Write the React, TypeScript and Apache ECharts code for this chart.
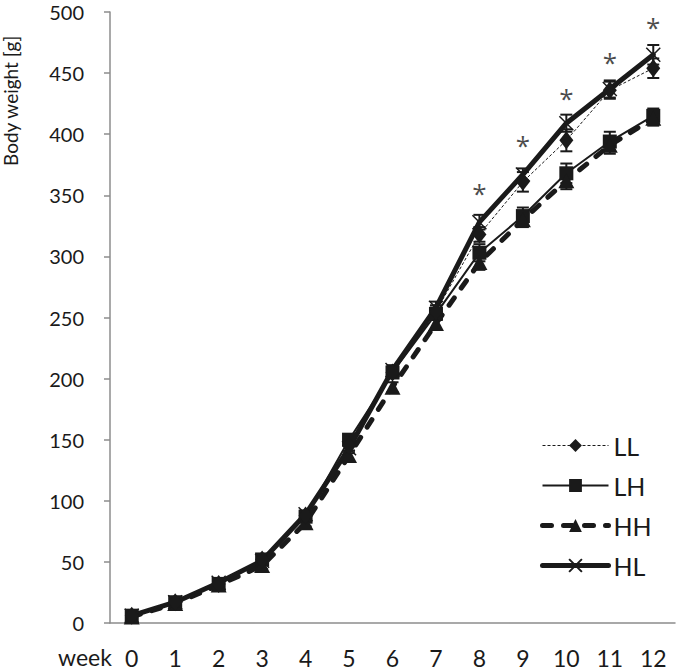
import React, { useEffect, useRef } from "react";
import * as echarts from "echarts";

const weeks = ["0", "1", "2", "3", "4", "5", "6", "7", "8", "9", "10", "11", "12"];
const yTicks = [0, 50, 100, 150, 200, 250, 300, 350, 400, 450, 500];

const LL = [6, 17, 32, 52, 88, 145, 205, 255, 318, 361, 395, 436, 454];
const LH = [6, 17, 32, 52, 87, 150, 205, 253, 303, 333, 368, 394, 415];
const HH = [5, 16, 31, 47, 82, 137, 193, 245, 295, 330, 362, 391, 413];
const HL = [6, 17, 33, 51, 89, 143, 207, 258, 328, 367, 409, 437, 465];

const LLerr = [2, 2, 2, 3, 3, 4, 4, 5, 6, 8, 9, 7, 8];
const LHerr = [2, 2, 2, 3, 3, 4, 4, 5, 7, 7, 8, 8, 6];
const HHerr = [2, 2, 2, 3, 3, 4, 4, 5, 6, 6, 7, 7, 6];
const HLerr = [2, 2, 2, 3, 3, 4, 4, 5, 6, 5, 7, 7, 8];

const starWeeks = [8, 9, 10, 11, 12];
const starValues = [352, 391, 430, 459, 488];

const INK = "#1a1a1a";
const FONT = "Lato, 'Open Sans', sans-serif";

const crossPath = "path://M0,0L10,10M10,0L0,10";

const LLline = { color: INK, width: 1, type: [3, 2] };
const LHline = { color: INK, width: 2 };
const HHline = { color: INK, width: 5, type: [9, 12], cap: "round" };
const HLline = { color: INK, width: 5, cap: "round" };

function errorSeries(vals: number[], errs: number[]) {
  return {
    type: "custom",
    silent: true,
    z: 3,
    data: vals.map((v, i) => [i, v - errs[i], v + errs[i]]),
    renderItem: (params: any, api: any) => {
      const x = api.value(0);
      const lo = api.coord([x, api.value(1)]);
      const hi = api.coord([x, api.value(2)]);
      const w = 6;
      const style = { stroke: INK, lineWidth: 2 };
      return {
        type: "group",
        children: [
          { type: "line", shape: { x1: lo[0], y1: lo[1], x2: hi[0], y2: hi[1] }, style },
          { type: "line", shape: { x1: lo[0] - w, y1: lo[1], x2: lo[0] + w, y2: lo[1] }, style },
          { type: "line", shape: { x1: hi[0] - w, y1: hi[1], x2: hi[0] + w, y2: hi[1] }, style },
        ],
      };
    },
  };
}

export default function App() {
  const ref = useRef<HTMLDivElement>(null);
  useEffect(() => {
    if (!ref.current) return;
    const chart = echarts.init(ref.current, undefined, { renderer: "svg" });
    chart.setOption({
      animation: false,
      backgroundColor: "#ffffff",
      textStyle: { fontFamily: FONT, color: INK },
      grid: { left: 110, right: 1, top: 12, bottom: 48, containLabel: false },
      legend: {
        orient: "vertical",
        left: 535,
        top: 428,
        itemWidth: 66,
        itemHeight: 16,
        itemGap: 15,
        textStyle: { fontSize: 25, color: INK, fontFamily: FONT },
        data: [
          { name: "LL", lineStyle: LLline },
          { name: "LH", lineStyle: LHline },
          { name: "HH", lineStyle: HHline },
          { name: "HL", lineStyle: HLline },
        ],
      },
      xAxis: {
        type: "category",
        data: weeks,
        boundaryGap: true,
        axisLine: { lineStyle: { color: "#8c8c8c", width: 1.5 } },
        axisTick: { length: 7, lineStyle: { color: "#8c8c8c", width: 1.5 } },
        axisLabel: { fontSize: 23, color: INK, margin: 23, fontFamily: FONT },
        splitLine: { show: false },
      },
      yAxis: {
        type: "value",
        min: 0,
        max: 500,
        interval: 50,
        axisLine: { show: true, lineStyle: { color: "#8c8c8c", width: 1.5 } },
        axisTick: { show: true, length: 6, lineStyle: { color: "#8c8c8c", width: 1.5 } },
        axisLabel: { fontSize: 20, color: INK, margin: 26, fontFamily: FONT,
          formatter: (v: number) => (yTicks.includes(v) ? String(v) : "") },
        splitLine: { show: false },
      },
      graphic: [
        {
          type: "text",
          left: 58,
          top: 645,
          style: { text: "week", fontSize: 23, fill: INK, fontFamily: FONT },
        },
        {
          type: "text",
          x: 1,
          y: 166,
          rotation: Math.PI / 2,
          style: { text: "Body weight [g]", fontSize: 19, fill: INK, fontFamily: FONT, textVerticalAlign: "top" },
        },
      ],
      series: [
        errorSeries(LL, LLerr),
        errorSeries(LH, LHerr),
        errorSeries(HH, HHerr),
        errorSeries(HL, HLerr),
        {
          name: "LL",
          type: "line",
          data: LL,
          z: 5,
          symbol: "diamond",
          symbolSize: [14, 18],
          showAllSymbol: true,
          itemStyle: { color: INK },
          lineStyle: LLline,
        },
        {
          name: "LH",
          type: "line",
          data: LH,
          z: 4,
          symbol: "rect",
          symbolSize: 14,
          showAllSymbol: true,
          itemStyle: { color: INK },
          lineStyle: LHline,
        },
        {
          name: "HH",
          type: "line",
          data: HH,
          z: 4,
          symbol: "triangle",
          symbolSize: [16, 15],
          showAllSymbol: true,
          itemStyle: { color: INK },
          lineStyle: HHline,
        },
        {
          name: "HL",
          type: "line",
          data: HL,
          z: 4,
          symbol: crossPath,
          symbolSize: 14,
          showAllSymbol: true,
          itemStyle: { color: "rgba(0,0,0,0)", borderColor: INK, borderWidth: 1.5 },
          lineStyle: HLline,
        },
        {
          type: "scatter",
          silent: true,
          symbolSize: 1,
          itemStyle: { color: "rgba(0,0,0,0)" },
          data: starWeeks.map((w, i) => [w, starValues[i]]),
          label: { show: true, position: "inside", formatter: "*", fontSize: 26, color: INK, fontFamily: "'Open Sans', sans-serif" },
        },
      ],
    });
    return () => chart.dispose();
  }, []);
  return <div ref={ref} style={{ width: 676, height: 671, position: "absolute", left: 0, top: 0 }} />;
}
